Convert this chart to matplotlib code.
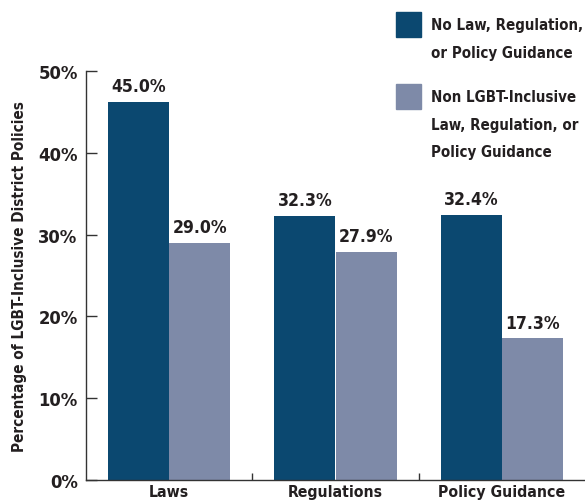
import matplotlib
matplotlib.use("Agg")
import matplotlib.pyplot as plt
import numpy as np
from matplotlib.patches import Rectangle
from matplotlib import font_manager as fm

categories = ["Laws", "Regulations", "Policy Guidance"]
no_law = [46.2, 32.3, 32.4]
no_law_labels = ["45.0%", "32.3%", "32.4%"]
non_inclusive = [29.0, 27.9, 17.3]
non_inclusive_labels = ["29.0%", "27.9%", "17.3%"]
series_names = ["No Law, Regulation,\nor Policy Guidance",
                "Non LGBT-Inclusive\nLaw, Regulation, or\nPolicy Guidance"]
yticks = [0, 10, 20, 30, 40, 50]

dark = "#0b4870"
light = "#7e8aa8"
txt = "#231f20"

# find a condensed bold font
cond = None
for f in fm.fontManager.ttflist:
    n = f.fname.lower()
    if ("narrow" in n or "condensed" in n) and "bold" in n and "oblique" not in n and "italic" not in n:
        if cond is None or "liberation" in n:
            cond = f.fname
if cond:
    fp = lambda s: fm.FontProperties(fname=cond, size=s)
else:
    fp = lambda s: fm.FontProperties(family="DejaVu Sans", weight="bold", stretch="condensed", size=s * 0.85)

fig = plt.figure(figsize=(5.85, 5.02), dpi=100)
ax = fig.add_axes([86/585, 21/502, 1 - 86/585, (481-72)/502])

x = np.arange(len(categories))
w = 0.367
b1 = ax.bar(x - w/2, no_law, width=w, color=dark)
b2 = ax.bar(x + w/2, non_inclusive, width=w, color=light)
for bars, labs in ((b1, no_law_labels), (b2, non_inclusive_labels)):
    for r, lab in zip(bars, labs):
        ax.annotate(lab, (r.get_x() + r.get_width()/2, r.get_height()),
                    xytext=(0, 5), textcoords="offset points",
                    ha="center", va="bottom", fontproperties=fp(12.6), color=txt)

ax.set_xlim(-0.5, 2.5)
ax.set_ylim(0, 50)
ax.set_yticks(yticks)
ax.set_yticklabels([f"{t}%" for t in yticks], fontproperties=fp(13.2), color=txt)
ax.set_xticks(x)
ax.set_xticklabels(categories, fontproperties=fp(11.3), color=txt)
ax.tick_params(axis="x", length=0, pad=3)
ax.set_xticks([0.5, 1.5], minor=True)
ax.tick_params(axis="x", which="minor", direction="in", length=5, width=1, color="#333333")
ax.tick_params(axis="y", direction="in", length=8, width=1, color="#333333", pad=6)
for s in ("top", "right"):
    ax.spines[s].set_visible(False)
for s in ("left", "bottom"):
    ax.spines[s].set_color("#333333")
    ax.spines[s].set_linewidth(1)
ax.set_ylabel("Percentage of LGBT-Inclusive District Policies", fontproperties=fp(11),
              color=txt)
ax.yaxis.set_label_coords(-0.118, 0.5)

# legend
for (y0, col, name) in ((13, dark, series_names[0]), (85, light, series_names[1])):
    fig.patches.append(Rectangle((396/585, 1 - (y0+25)/502), 25/585, 25/502,
                                 transform=fig.transFigure, color=col))
    fig.text(431/585, 1 - (y0 + 5)/502, name, ha="left", va="top",
             fontproperties=fp(10.8), color=txt, linespacing=2.05)

fig.savefig("out.png", dpi=100)
